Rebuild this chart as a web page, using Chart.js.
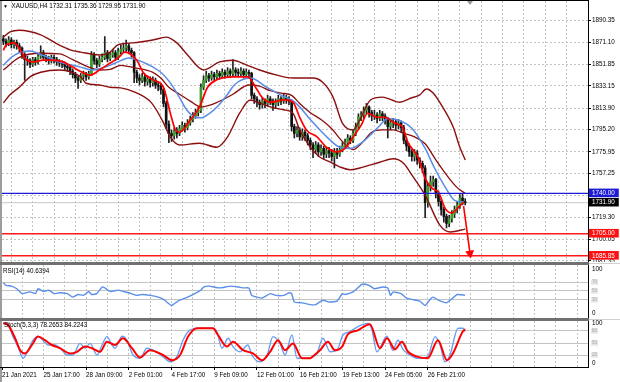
<!DOCTYPE html>
<html><head><meta charset="utf-8">
<script src="https://cdn.jsdelivr.net/npm/chart.js@4/dist/chart.umd.min.js"></script>
<style>
html,body{margin:0;padding:0;background:#fff;width:620px;height:382px;overflow:hidden;position:relative}
.cv{position:absolute;left:0;display:block}
.lbl{position:absolute;font-family:'Liberation Sans',Arial,sans-serif;font-size:6.3px;color:#000;white-space:nowrap;line-height:8px}
#shift{position:absolute;left:467px;top:1px;width:0;height:0;border-left:3px solid transparent;border-right:3px solid transparent;border-top:4px solid #9a9a9a}
</style></head><body>
<canvas id="c1" class="cv" width="620" height="262" style="top:0"></canvas>
<canvas id="c2" class="cv" width="620" height="56" style="top:262px"></canvas>
<canvas id="c3" class="cv" width="620" height="64" style="top:318px"></canvas>
<div id="shift"></div>
<div class="lbl" style="left:3px;top:2px"><span style="font-size:5px">▼</span>&nbsp; XAUUSD,H4 1732.31 1735.36 1729.95 1731.90</div>
<div class="lbl" style="left:3px;top:267px">RSI(14) 40.6394</div>
<div class="lbl" style="left:4px;top:321px">Stoch(5,3,3) 78.2653 84.2243</div>
<script>
// ---------------- data ----------------
const opens=[1874,1872,1870,1873,1869,1871,1868,1866,1860,1856,
1855,1852,1856,1854,1859,1862,1858,1857,1855,1858,
1856,1854,1853,1852,1850,1849,1846,1843,1840,1838,
1842,1843,1841,1844,1860,1855,1852,1856,1858,1862,
1857,1860,1862,1858,1863,1865,1866,1868,1864,1862,
1845,1840,1838,1841,1837,1839,1836,1838,1834,1833,
1830,1818,1800,1792,1790,1794,1792,1796,1799,1797,
1801,1804,1807,1810,1812,1832,1838,1842,1840,1843,
1841,1844,1842,1845,1843,1846,1844,1847,1845,1844,
1846,1843,1845,1844,1825,1822,1819,1817,1820,1818,
1822,1820,1817,1819,1822,1820,1823,1821,1820,1798,
1792,1795,1789,1793,1790,1786,1782,1778,1782,1776,
1779,1774,1777,1775,1772,1776,1774,1778,1781,1784,
1788,1786,1792,1798,1806,1808,1812,1815,1810,1807,
1808,1805,1809,1807,1804,1798,1801,1802,1799,1801,
1797,1786,1781,1776,1772,1775,1769,1766,1762,1732,
1746,1750,1752,1740,1733,1726,1720,1714,1718,1722,
1726,1730,1736,1732.31];
const highs=[1877,1874,1876,1875,1873,1873,1870,1867,1862,1859,
1857,1858,1858,1861,1868,1864,1860,1859,1860,1860,
1858,1856,1855,1854,1852,1851,1848,1845,1842,1844,
1846,1845,1846,1863,1862,1857,1859,1861,1876,1864,
1862,1865,1864,1866,1869,1870,1873,1870,1866,1863,
1847,1843,1844,1843,1842,1841,1841,1840,1837,1835,
1831,1820,1803,1795,1797,1797,1799,1802,1801,1804,
1807,1810,1813,1815,1835,1842,1846,1844,1846,1845,
1847,1846,1848,1847,1849,1848,1856,1849,1848,1849,
1848,1848,1847,1845,1827,1824,1821,1823,1822,1825,
1824,1822,1822,1825,1824,1826,1825,1824,1821,1800,
1798,1797,1796,1795,1792,1788,1784,1785,1784,1782,
1781,1780,1780,1778,1779,1779,1781,1784,1787,1791,
1790,1795,1801,1809,1811,1815,1818,1816,1812,1812,
1810,1812,1811,1809,1806,1804,1805,1804,1804,1803,
1799,1788,1783,1778,1778,1777,1771,1768,1764,1749,
1755,1755,1753,1742,1735,1728,1722,1721,1725,1729,
1733,1739,1740,1735.36];
const lows=[1869,1867,1868,1866,1866,1865,1862,1857,1838,1851,
1849,1850,1851,1852,1857,1856,1854,1852,1853,1853,
1851,1850,1849,1847,1846,1843,1840,1836,1831,1836,
1839,1838,1839,1842,1852,1849,1850,1854,1856,1854,
1855,1858,1855,1856,1861,1862,1863,1861,1858,1836,
1836,1834,1836,1833,1834,1832,1833,1831,1829,1826,
1815,1796,1784,1785,1787,1788,1790,1794,1793,1795,
1799,1802,1805,1807,1810,1830,1836,1837,1838,1838,
1839,1839,1840,1840,1841,1841,1842,1842,1841,1842,
1840,1841,1840,1822,1818,1815,1813,1814,1814,1816,
1817,1812,1814,1816,1817,1818,1818,1817,1794,1788,
1789,1786,1786,1786,1782,1778,1771,1775,1772,1773,
1770,1771,1771,1768,1762,1770,1772,1776,1779,1782,
1783,1784,1790,1796,1803,1805,1809,1806,1803,1804,
1801,1803,1803,1800,1788,1795,1797,1795,1796,1793,
1783,1777,1772,1768,1768,1765,1762,1758,1719,1728,
1742,1746,1736,1729,1721,1715,1710,1711,1715,1719,
1723,1727,1730,1729.95];
const closes=[1872,1870,1873,1869,1871,1868,1866,1860,1856,1855,
1852,1856,1854,1859,1862,1858,1857,1855,1858,1856,
1854,1853,1852,1850,1849,1846,1843,1840,1838,1842,
1843,1841,1844,1860,1855,1852,1856,1858,1862,1857,
1860,1862,1858,1863,1865,1866,1868,1864,1862,1845,
1840,1838,1841,1837,1839,1836,1838,1834,1833,1830,
1818,1800,1792,1790,1794,1792,1796,1799,1797,1801,
1804,1807,1810,1812,1832,1838,1842,1840,1843,1841,
1844,1842,1845,1843,1846,1844,1847,1845,1844,1846,
1843,1845,1844,1825,1822,1819,1817,1820,1818,1822,
1820,1817,1819,1822,1820,1823,1821,1820,1798,1792,
1795,1789,1793,1790,1786,1782,1778,1782,1776,1779,
1774,1777,1775,1772,1776,1774,1778,1781,1784,1788,
1786,1792,1798,1806,1808,1812,1815,1810,1807,1808,
1805,1809,1807,1804,1798,1801,1802,1799,1801,1797,
1786,1781,1776,1772,1775,1769,1766,1762,1732,1746,
1750,1752,1740,1733,1726,1720,1714,1718,1722,1726,
1730,1736,1732.31,1731.90];

// indicator lines: [bar index, value]
const bbUpper=[[0,1875.5],[2.5,1880],[6,1881.5],[14,1877.5],[21,1868.5],[25,1864.5],[29,1862.5],[36,1860],[40,1862.5],[43,1869],[48.5,1870.5],[56,1873],[61,1875.5],[65,1870.5],[69,1860],[75,1847],[81,1854],[86,1855.5],[91,1851.5],[96,1847],[102.5,1842.5],[108.5,1840],[116,1840],[119.5,1836.5],[123.5,1823.5],[127,1801],[131,1795],[133.5,1803.5],[137.5,1821],[142,1823.5],[148.5,1819],[152.5,1822.5],[156,1825.5],[158.5,1830.5],[161,1827],[164.5,1815],[168.5,1797.5],[171,1780],[173,1769]];
const bbMiddle=[[0,1847],[6,1858],[14,1861.5],[21,1861],[26,1856],[32,1849.5],[36,1847],[40,1847.5],[44,1851],[49,1849],[56,1845],[59,1840],[62,1832],[66,1826],[70,1820],[74,1815],[78,1817],[82,1821],[86,1826],[92,1834],[96,1833],[100,1829],[104,1827],[108,1825],[111,1818],[115,1810],[119,1804],[123,1796],[127,1785],[131,1778],[134,1783],[138,1793],[142,1795],[146,1795],[150,1792],[154,1789],[158,1783],[162,1769],[166,1756],[170,1745],[173,1740]];
const bbLower=[[0,1818.5],[2.5,1825.5],[6,1832],[10,1841],[14,1845],[21,1847],[29,1841],[31,1835.5],[36,1834],[40,1832],[44,1831.5],[49,1828],[55.5,1818.5],[59.5,1803.5],[62.5,1789],[66,1782],[73.5,1783.5],[80,1780],[84,1789],[88.5,1809.5],[92.5,1821],[96,1818.5],[100,1815],[105,1812.5],[108.5,1809.5],[111,1795],[115,1780],[118.5,1771.5],[122.5,1767],[126,1763],[130,1760.5],[133.5,1762],[141,1767],[146,1770],[150,1766],[153,1756],[158,1738.5],[163.5,1712.5],[167.5,1706.5],[173,1709]];
const maSlow=[[0,1851],[3,1858],[6,1862],[10,1863.5],[14,1860.5],[21,1854],[29,1849.5],[33,1847],[36,1848],[42,1853],[47,1857.5],[50,1856],[54,1852],[59,1845],[62.5,1836],[66,1823],[68.5,1813],[72,1806],[74,1805.5],[77,1809],[80.5,1816],[84,1826],[86.5,1834],[92.5,1840],[99,1831.5],[105,1824],[108,1821],[111,1815],[115,1804],[122.5,1786],[126,1780],[130,1779],[134.5,1784.5],[140.5,1797.5],[144,1805],[148,1803.5],[153,1796.5],[158,1779],[161.5,1762],[165.5,1745.5],[169,1734],[172.5,1732.5]];
const maFast=[[0,1864],[1,1868.5],[4,1870.5],[6.5,1864],[8,1857.5],[11,1854],[15,1855.5],[18.5,1855.5],[22.5,1854],[26,1849.5],[30,1844.5],[32.5,1842.5],[36,1847],[40,1853],[43,1857.5],[45.5,1862.5],[50,1855.5],[52.5,1844.5],[56,1838.5],[60,1832],[62.5,1810],[64.5,1795],[66,1793],[70,1803.5],[73.5,1815],[76.5,1832],[80,1838.5],[86,1841],[91.5,1841],[95,1830],[97,1823],[100,1819],[105,1821],[108.5,1819],[111,1806],[113.5,1795],[117.5,1789],[121,1780],[125,1776],[128,1779],[131.5,1790.5],[134,1799],[136.5,1809.5],[140,1806],[143,1806],[146.5,1801],[149.5,1797.5],[151.5,1784.5],[155.5,1770.5],[158,1753],[160.5,1744.5],[163,1741],[165.5,1727],[168,1723],[170.5,1728],[172.5,1732.5]];
const rsi=[[0,69],[1,63],[3,61],[5,55],[7,44],[10,48],[12,44],[13,55],[15,49],[17,52],[19,44],[21,46],[24,44],[26,36],[28,42],[30,40],[32,49],[33,42],[35,44],[37,59],[38,57],[40,49],[43,52],[45,49],[47,46],[50,40],[52,42],[55,40],[58,36],[60,31],[62,21],[63,17],[64,21],[66,29],[69,36],[71,42],[74,52],[75,59],[77,61],[81,57],[85,61],[88,59],[90,57],[92,57],[93,40],[95,36],[97,34],[100,44],[102,40],[105,40],[107,46],[108,44],[109,25],[112,23],[115,19],[117,19],[119,27],[120,29],[122,25],[125,27],[127,44],[128,42],[131,48],[134,64],[135,66],[137,63],[139,55],[142,59],[144,57],[145,40],[146,48],[149,44],[151,34],[153,31],[156,27],[158,17],[160,32],[161,36],[163,29],[166,23],[168,32],[170,42],[173,40.64]];
const stochMain=[[0,99],[1.4,99],[3.6,66],[5.5,41],[7.4,12],[9.3,32],[11.1,57],[13,66],[14.9,57],[16.7,45],[19.4,45],[22,32],[23.9,20],[26.1,20],[28.7,49],[30.6,37],[32.5,49],[35.1,20],[37,45],[38.8,66],[40.7,45],[41.8,37],[44.5,67],[46.3,57],[48.6,20],[51.2,12],[53.8,37],[56.1,32],[59.8,16],[62.4,3],[65,16],[67.3,57],[69.9,82],[73.7,87],[78.5,87],[80,78],[81.9,37],[84.2,62],[86,41],[88.6,28],[91.6,45],[93.1,20],[96.1,3],[98.8,20],[101,66],[103.6,49],[105.5,20],[108.1,70],[110,12],[114.1,12],[116,16],[117.5,24],[119.7,62],[122.4,28],[125,32],[127.2,70],[129.8,78],[132.8,91],[136.6,99],[138.1,82],[139.9,28],[143.7,67],[145.9,32],[147.8,57],[149.7,34],[152.3,20],[154.9,12],[157.1,12],[159,16],[161.7,66],[163.6,45],[165.4,3],[167.3,20],[170.3,87],[172.2,87],[173,78.27]];
const stochSignal=[[0,100],[1.8,95],[4.4,62],[6.3,32],[8.1,24],[10.7,45],[13,66],[15.6,57],[18.2,45],[21.2,37],[25,24],[27.6,28],[30.6,41],[33.2,37],[36.2,28],[38.8,53],[41.8,45],[44.8,62],[48.2,37],[51.2,14],[54.9,32],[59.8,20],[63.2,7],[66.2,20],[69.2,66],[72.5,87],[78.5,87],[80.4,70],[83.8,41],[86,53],[89.8,32],[93.5,24],[96.9,7],[99.9,28],[102.9,57],[105.5,32],[108.5,49],[111.9,12],[114.9,12],[116,17],[118.6,32],[121.6,53],[124.2,32],[126.9,41],[129.1,72],[132.5,81],[137.3,97],[141.1,37],[143.7,62],[146.7,34],[149.3,53],[151.6,28],[154.9,16],[159,12],[162.8,57],[166.2,7],[168.4,24],[172.2,80],[173,84.22]];

const levelBlue=1740.00, levelRed1=1705.00, levelRed2=1685.85, lastPrice=1731.90;
const arrowPts=[[172.4,1729],[174.8,1688]];
const priceTicks=[1890.35,1871.10,1851.85,1833.15,1813.90,1795.20,1775.95,1757.25,1738.55,1719.30,1700.05,1681.35];
const priceMarkers=[1740.00,1731.90,1705.00,1685.85];
const markerColors=['#1b1bd6','#000000','#ff1010','#ff1010'];
const rsiTicks=[100,70,50,30,0];
const stochTicks=[100,80,50,20,0];
const dateLabels=['21 Jan 2021','25 Jan 17:00','28 Jan 09:00','2 Feb 01:00','4 Feb 17:00','9 Feb 09:00','12 Feb 01:00','16 Feb 21:00','19 Feb 13:00','24 Feb 05:00','26 Feb 21:00'];
const dateLabelBars=[-0.5,15,31,47,63,79,95,111,127,143,159];
const gridBars=[7,15,23,31,39,47,55,63,71,79,87,95,103,111,119,127,135,143,151,159,167,175,183,191,199,207,215];

// ---------------- layout / style ----------------
const XMIN=-0.5, XMAX=219;
const FONT="'Liberation Sans',Arial,sans-serif";
const FS=6.3;
const GRID='#c4c4c4';
const TR='rgba(0,0,0,0)';
const DARKRED='#8b0f0f';
const tv = c => (c && c.tick) ? c.tick.value : NaN;

const pts = a => a.map(p=>({x:p[0],y:p[1]}));
const bars = closes.map((_,i)=>i);

function xAxis(showLabels){
  const all = showLabels ? [-0.5,...gridBars] : gridBars;
  return {
    type:'linear', min:XMIN, max:XMAX, offset:false,
    border:{display:false, dash:[2,2]},
    grid:{
      color:c=> gridBars.includes(tv(c))?GRID:TR,
      lineWidth:1, drawTicks:showLabels, tickLength:3, tickBorderDash:[],
      tickColor:c=> dateLabelBars.includes(tv(c))?'#000':TR
    },
    ticks:{display:showLabels, autoSkip:false, maxRotation:0, minRotation:0, align:'start', padding:1,
      font:{family:FONT,size:FS}, color:'#000',
      callback:v=>{const k=dateLabelBars.indexOf(v);return k>=0?dateLabels[k]:'';}},
    afterBuildTicks:s=>{s.ticks=all.map(v=>({value:v}));},
    afterFit:s=>{s.height=showLabels?15:0;s.paddingLeft=0;s.paddingRight=0;}
  };
}
function yAxis(min,max,vals,opts){
  return Object.assign({
    type:'linear', position:'right', min, max,
    afterBuildTicks:s=>{s.ticks=vals.map(v=>({value:v}));},
    afterFit:s=>{s.width=32;s.paddingTop=0;s.paddingBottom=0;}
  },opts);
}

const framePlugin={
  id:'frame',
  afterDraw(chart,args,o){
    const {ctx,chartArea:a,height}=chart;
    ctx.save();
    ctx.fillStyle='#9c9c9c';
    ctx.fillRect(0,0,2,height);
    ctx.strokeStyle='#000';ctx.lineWidth=1;
    ctx.beginPath();
    ctx.moveTo(Math.round(a.right)+0.5,a.top-(o.top?1:0));ctx.lineTo(Math.round(a.right)+0.5,a.bottom);
    if(o.top){ctx.moveTo(0,0.5);ctx.lineTo(a.right+1,0.5);}
    if(o.bottom){ctx.moveTo(0,Math.round(a.bottom)+0.5);ctx.lineTo(a.right+1,Math.round(a.bottom)+0.5);}
    ctx.stroke();
    if(o.sep){
      ctx.fillStyle='#707070';
      ctx.fillRect(0,0,a.right+1,3);
      ctx.fillStyle='#d0d0d0';
      ctx.fillRect(a.right+1,1,chart.width-a.right,1);
    }
    ctx.restore();
  }
};

const common={responsive:false,animation:false,events:[],
  plugins:{legend:{display:false},tooltip:{enabled:false}}};

function lineDs(data,color,width,order,extra){
  return Object.assign({type:'line',data:pts(data),borderColor:color,borderWidth:width,pointRadius:0,
    cubicInterpolationMode:'monotone',fill:false,order},extra||{});
}
function hLine(v,color,width,order){
  return {type:'line',data:[{x:XMIN,y:v},{x:XMAX,y:v}],borderColor:color,borderWidth:width,pointRadius:0,order};
}

// ---------------- main chart ----------------
new Chart(document.getElementById('c1'),{
  type:'line',
  data:{datasets:[
    {type:'line',data:pts(arrowPts),borderColor:'#ff0000',borderWidth:1.6,
      pointRadius:[0,3.6],pointStyle:'triangle',pointRotation:171,pointBackgroundColor:'#ff0000',pointBorderColor:'#ff0000',order:0},
    hLine(levelBlue,'#1b1bd6',1.4,1),
    hLine(levelRed1,'#ff1a1a',1.4,1),
    hLine(levelRed2,'#ff1a1a',1.4,1),
    lineDs(maFast,'#ff0000',1.7,2),
    lineDs(maSlow,'#5a8ce6',1.5,3),
    lineDs(bbUpper,DARKRED,1.4,4),
    lineDs(bbMiddle,DARKRED,1.3,4),
    lineDs(bbLower,DARKRED,1.4,4),
    {type:'bar',data:bars.map(i=>({x:i,y:[opens[i],closes[i]]})),barThickness:2,grouped:false,minBarLength:1,
      backgroundColor:bars.map(i=>closes[i]>=opens[i]?'#3e9a2c':'#101010'),borderWidth:0,order:5},
    {type:'bar',data:bars.map(i=>({x:i,y:[lows[i],highs[i]]})),barThickness:1,grouped:false,
      backgroundColor:'#202020',borderWidth:0,order:6},
    hLine(lastPrice,'#c8c8c8',1,7)
  ]},
  options:Object.assign({},common,{
    layout:{autoPadding:false,padding:{left:2,top:1,right:0,bottom:0}},
    plugins:Object.assign({},common.plugins,{frame:{top:true}}),
    scales:{
      x:xAxis(false),
      y:yAxis(1680.48,1906.83,[...priceTicks,...priceMarkers],{
        border:{display:false,dash:[2,2]},
        grid:{color:c=>priceMarkers.includes(tv(c))?TR:GRID,drawTicks:true,tickLength:3,tickBorderDash:[],
          tickColor:c=>(priceMarkers.includes(tv(c))||tv(c)===1738.55)?TR:'#000'},
        ticks:{autoSkip:false,padding:1,font:{family:FONT,size:FS},
          color:c=>priceMarkers.includes(tv(c))?'#fff':'#000',
          showLabelBackdrop:true,
          backdropColor:c=>{const k=priceMarkers.indexOf(tv(c));return k>=0?markerColors[k]:TR;},
          backdropPadding:{left:3,right:4,top:1,bottom:0},
          callback:v=>v===1738.55?'':v.toFixed(2)}
      })
    }
  }),
  plugins:[framePlugin]
});

// ---------------- oscillators ----------------
function oscTicks(vals,boxed){
  return {
    border:{display:false},
    grid:{color:c=>boxed.includes(tv(c))?'#c4c4c4':TR,drawTicks:false},
    ticks:{autoSkip:false,padding:4,
      font:c=>({family:FONT,size:boxed.includes(tv(c))?4.5:FS}),
      color:c=>boxed.includes(tv(c))?'#a8a8a8':'#000',
      showLabelBackdrop:true,
      backdropColor:c=>boxed.includes(tv(c))?'#e6e6e6':TR,
      backdropPadding:{left:1,right:1,top:0,bottom:0},
      callback:v=>String(v)}
  };
}
new Chart(document.getElementById('c2'),{
  type:'line',
  data:{datasets:[lineDs(rsi,'#5b8fea',1.4,0,{cubicInterpolationMode:'default',tension:0.15})]},
  options:Object.assign({},common,{
    layout:{autoPadding:false,padding:{left:2,top:3,right:0,bottom:0}},
    plugins:Object.assign({},common.plugins,{frame:{sep:true}}),
    scales:{x:xAxis(false),y:yAxis(-11.4,109.1,rsiTicks,oscTicks(rsiTicks,[70,50,30]))}
  }),
  plugins:[framePlugin]
});
new Chart(document.getElementById('c3'),{
  type:'line',
  data:{datasets:[
    lineDs(stochSignal,'#ff0000',2,0),
    lineDs(stochMain,'#6b9ef0',1.4,1)
  ]},
  options:Object.assign({},common,{
    layout:{autoPadding:false,padding:{left:2,top:3,right:0,bottom:0}},
    plugins:Object.assign({},common.plugins,{frame:{sep:true,bottom:true}}),
    scales:{x:xAxis(true),y:yAxis(-10,105,stochTicks,oscTicks(stochTicks,[80,50,20]))}
  }),
  plugins:[framePlugin]
});
</script>
</body></html>
